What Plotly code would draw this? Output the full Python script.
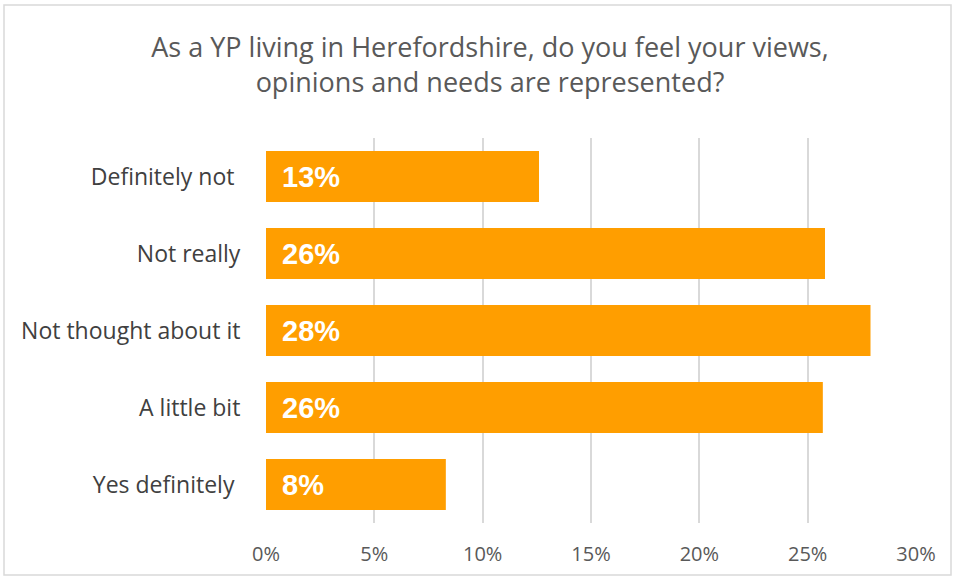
import plotly.graph_objects as go

# Survey responses (share of young people)
categories = ["Definitely not\u00a0", "Not really", "Not thought about it", "A little bit", "Yes definitely\u00a0"]
shares = [0.126, 0.258, 0.279, 0.257, 0.083]
tick_values = [0, 0.05, 0.10, 0.15, 0.20, 0.25, 0.30]
tick_labels = ["0%", "5%", "10%", "15%", "20%", "25%", "30%"]

title_text = "As a YP living in Herefordshire, do you feel your views,<br>opinions and needs are represented?"

bar_color = "#FF9E00"
grid_color = "#D9D9D9"
text_grey = "#595959"

fig = go.Figure()
fig.add_trace(go.Bar(
    y=categories,
    x=shares,
    orientation="h",
    marker=dict(color=bar_color, line=dict(width=0)),
    hoverinfo="skip",
))

# value labels, white and bold, at the base of each bar
for cat, val in zip(categories, shares):
    fig.add_annotation(
        x=0, y=cat, xref="x", yref="y",
        text=f"{val:.0%}",
        xanchor="left", yanchor="middle", xshift=14,
        showarrow=False,
        font=dict(family="Liberation Sans", size=29, color="white", weight="bold"),
    )

fig.update_layout(
    width=957, height=579,
    margin=dict(l=266, r=41, t=138, b=56),
    paper_bgcolor="white", plot_bgcolor="white",
    bargap=0.34,
    showlegend=False,
    title=dict(
        text=title_text,
        x=0.512, xanchor="center", y=0.902, yanchor="top",
        font=dict(family="Open Sans", size=27, color=text_grey),
    ),
    xaxis=dict(
        range=[0, 0.30],
        tickvals=tick_values, ticktext=tick_labels,
        showgrid=True, gridcolor=grid_color, gridwidth=1.5,
        zeroline=False, showline=False,
        ticks="outside", ticklen=13, tickcolor="rgba(0,0,0,0)",
        tickfont=dict(family="Open Sans", size=20, color=text_grey),
        fixedrange=True,
    ),
    yaxis=dict(
        autorange="reversed",
        showgrid=False, zeroline=False, showline=False,
        ticks="outside", ticklen=20, tickcolor="rgba(0,0,0,0)",
        tickfont=dict(family="Open Sans", size=23, color="#404040"),
        fixedrange=True,
    ),
    shapes=[dict(
        type="rect", xref="paper", yref="paper",
        x0=-262 / 650, x1=1 + 35 / 650, y0=-52 / 385, y1=1 + 133 / 385,
        line=dict(color=grid_color, width=1.5), fillcolor="rgba(0,0,0,0)",
        layer="below",
    )],
)

fig.write_html("out.html")
